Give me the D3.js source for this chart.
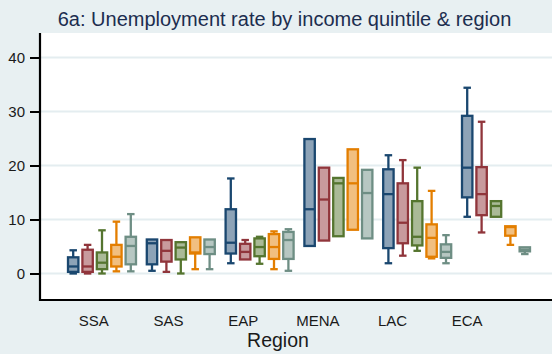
<!DOCTYPE html>
<html>
<head>
<meta charset="utf-8">
<script src="https://cdn.jsdelivr.net/npm/d3@7"></script>
<style>
  html, body { margin: 0; padding: 0; background: #e8f0f2; }
  svg { display: block; }
</style>
</head>
<body>
<script>
// Regions along the x axis and income quintiles within each region
const regions = ["SSA", "SAS", "EAP", "MENA", "LAC", "ECA"];
const quintiles = ["Q1", "Q2", "Q3", "Q4", "Q5"];
const yTicks = [0, 10, 20, 30, 40];

// Box summaries per region: [lower whisker, q1, median, q3, upper whisker]
const quintile1 = [
  [0.0, 0.3, 1.3, 3.0, 4.3],
  [0.5, 1.7, 5.6, 6.3, 6.3],
  [1.9, 3.7, 5.7, 11.9, 17.6],
  [5.1, 5.1, 11.9, 24.9, 24.9],
  [1.9, 4.7, 14.7, 19.3, 21.9],
  [10.5, 14.1, 19.6, 29.2, 34.4]
];
const quintile2 = [
  [0.0, 0.3, 1.3, 4.4, 5.3],
  [0.3, 2.2, 4.2, 6.2, 6.2],
  [2.6, 2.6, 4.0, 5.5, 6.2],
  [6.1, 6.1, 13.7, 19.6, 19.6],
  [3.3, 5.6, 9.4, 16.7, 21.0],
  [7.6, 10.8, 14.7, 19.7, 28.1]
];
const quintile3 = [
  [0.0, 0.8, 2.0, 3.9, 8.0],
  [0.0, 2.6, 4.8, 5.8, 5.8],
  [1.8, 3.2, 4.9, 6.5, 6.8],
  [6.9, 6.9, 16.7, 17.7, 17.7],
  [4.2, 5.2, 6.8, 13.4, 19.6],
  [10.5, 10.5, 12.5, 13.4, 13.4]
];
const quintile4 = [
  [0.4, 1.3, 3.1, 5.3, 9.6],
  [0.8, 3.7, 3.9, 6.7, 6.7],
  [0.8, 2.7, 4.9, 7.3, 7.8],
  [8.1, 8.1, 16.7, 23.0, 23.0],
  [2.8, 3.1, 6.6, 9.1, 15.3],
  [5.3, 7.0, 8.6, 8.75, 8.75]
];
const quintile5 = [
  [0.4, 1.7, 5.1, 6.8, 11.0],
  [0.8, 3.6, 4.9, 6.3, 6.3],
  [0.5, 2.7, 6.2, 7.7, 8.2],
  [6.5, 6.5, 14.9, 19.2, 19.2],
  [1.9, 2.9, 4.0, 5.4, 7.1],
  [3.6, 4.1, 4.4, 4.85, 4.85]
];
const seriesByQuintile = [quintile1, quintile2, quintile3, quintile4, quintile5];
const quintileColors = ["#1a476f", "#90353b", "#55752f", "#e37e00", "#6e8e84"];

const W = 552, H = 354;
const plot = { left: 40, right: 552, top: 33, bottom: 300 };
const font = "'Liberation Sans', Arial, Helvetica, sans-serif";

const svg = d3.select("body").append("svg")
  .attr("width", W).attr("height", H)
  .style("font-family", font);

svg.append("rect").attr("width", W).attr("height", H).attr("fill", "#e8f0f2");
svg.append("rect")
  .attr("x", plot.left).attr("y", plot.top)
  .attr("width", plot.right - plot.left).attr("height", plot.bottom - plot.top)
  .attr("fill", "#ffffff");

// Scales
const y = d3.scaleLinear().domain([0, 40]).range([273.5, 57.5]);
const x = d3.scalePoint().domain(regions).range([102, 496]);
const xInner = d3.scaleBand().domain(quintiles).range([-36, 36]);
const xLabel = d3.scalePoint().domain(regions).range([93.3, 466.7]);

// Gridlines
svg.append("g").selectAll("line").data(yTicks).join("line")
  .attr("x1", plot.left + 1).attr("x2", plot.right)
  .attr("y1", d => y(d)).attr("y2", d => y(d))
  .attr("stroke", "#e4edf0").attr("stroke-width", 2);

// Y axis
const yAxis = svg.append("g")
  .attr("transform", `translate(${plot.left},0)`)
  .call(d3.axisLeft(y).tickValues(yTicks).tickSize(10).tickPadding(5));
yAxis.select(".domain").remove();
yAxis.selectAll(".tick line").attr("stroke", "#000").attr("stroke-width", 2);
yAxis.selectAll(".tick text")
  .attr("fill", "#1a1a1a").style("font-size", "15px").style("font-family", font);

// X labels
const xAxis = svg.append("g")
  .attr("transform", `translate(0,${plot.bottom})`)
  .call(d3.axisBottom(xLabel).tickSize(0).tickPadding(15));
xAxis.select(".domain").remove();
xAxis.selectAll(".tick text")
  .attr("fill", "#1a1a1a").style("font-size", "15px").style("font-family", font);

// Axis lines
svg.append("line")
  .attr("x1", plot.left).attr("x2", plot.left)
  .attr("y1", plot.top).attr("y2", plot.bottom + 1)
  .attr("stroke", "#000").attr("stroke-width", 2.2);
svg.append("line")
  .attr("x1", plot.left - 1).attr("x2", plot.right)
  .attr("y1", plot.bottom).attr("y2", plot.bottom)
  .attr("stroke", "#000").attr("stroke-width", 2.2);

// Boxes
const boxW = 10.4, capW = 7.5, sw = 2.3;
const marks = svg.append("g");
seriesByQuintile.forEach((series, qi) => {
  const col = quintileColors[qi];
  const fill = d3.interpolateRgb(col, "#ffffff")(0.5);
  series.forEach((s, ri) => {
    const [lw, q1, med, q3, hw] = s;
    const cx = x(regions[ri]) + xInner(quintiles[qi]) + xInner.bandwidth() / 2;
    const g = marks.append("g");
    if (hw > q3) {
      g.append("line").attr("x1", cx).attr("x2", cx).attr("y1", y(q3)).attr("y2", y(hw))
        .attr("stroke", col).attr("stroke-width", sw);
      g.append("line").attr("x1", cx - capW / 2).attr("x2", cx + capW / 2)
        .attr("y1", y(hw)).attr("y2", y(hw))
        .attr("stroke", col).attr("stroke-width", sw);
    }
    if (lw < q1) {
      g.append("line").attr("x1", cx).attr("x2", cx).attr("y1", y(q1)).attr("y2", y(lw))
        .attr("stroke", col).attr("stroke-width", sw);
      g.append("line").attr("x1", cx - capW / 2).attr("x2", cx + capW / 2)
        .attr("y1", y(lw)).attr("y2", y(lw))
        .attr("stroke", col).attr("stroke-width", sw);
    }
    g.append("rect")
      .attr("x", cx - boxW / 2).attr("y", y(q3))
      .attr("width", boxW).attr("height", Math.max(0.5, y(q1) - y(q3)))
      .attr("fill", fill).attr("stroke", col).attr("stroke-width", sw);
    g.append("line")
      .attr("x1", cx - boxW / 2).attr("x2", cx + boxW / 2)
      .attr("y1", y(med)).attr("y2", y(med))
      .attr("stroke", col).attr("stroke-width", sw);
  });
});

// Title and axis title
svg.append("text")
  .attr("x", 284.5).attr("y", 26)
  .attr("text-anchor", "middle")
  .attr("fill", "#1c2d4f")
  .style("font-size", "20px")
  .text("6a: Unemployment rate by income quintile & region");

svg.append("text")
  .attr("x", 278).attr("y", 347)
  .attr("text-anchor", "middle")
  .attr("fill", "#1a1a1a")
  .style("font-size", "19.5px")
  .text("Region");
</script>
</body>
</html>
